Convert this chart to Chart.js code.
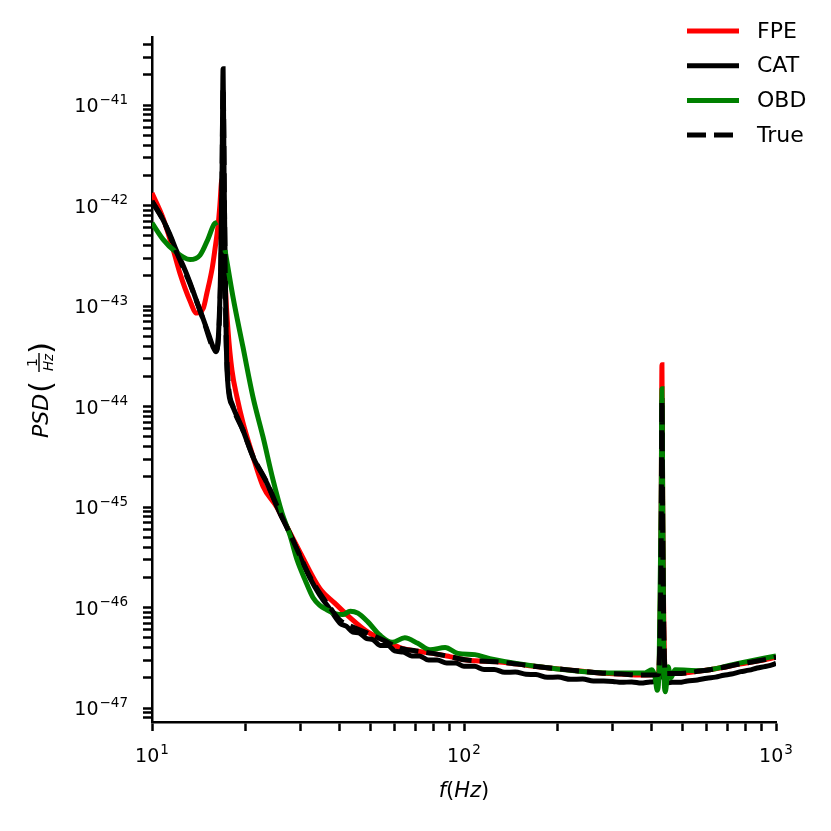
<!DOCTYPE html>
<html>
<head>
<meta charset="utf-8">
<script src="https://cdn.jsdelivr.net/npm/chart.js@4.4.1/dist/chart.umd.min.js"></script>
<style>
  html, body { margin: 0; padding: 0; background: #fff; }
  canvas { display: block; }
</style>
</head>
<body>
<canvas id="psdChart" width="831" height="831" style="width:831px;height:831px"></canvas>
<script>
// frequencies (Hz) and PSD values
const freqFPE = [10, 10.85, 11.7, 12.3, 13.2, 13.9, 14.6, 15.0, 15.6, 15.9, 16.3, 16.5, 16.75, 16.95, 17.2, 17.52, 18.04, 18.72, 19.57, 20.6, 22.7, 25.1, 26.7, 29.9, 34.5, 38.6, 43.2, 48.8, 55, 62.3, 70, 79.4, 90, 102, 130, 160, 188, 230, 273, 320, 366, 420, 428.5, 431, 433.5, 442, 480, 570, 660, 763, 880, 1000];
const psdFPE = [1.33e-42, 7.5e-43, 3.6e-43, 2.1e-43, 1.15e-43, 8.5e-44, 9.5e-44, 1.35e-43, 2.4e-43, 3.6e-43, 6.5e-43, 1.0e-42, 1.8e-42, 4.6e-43, 1.5e-43, 5.8e-44, 2.3e-44, 1.24e-44, 6.9e-45, 4.0e-45, 1.6e-45, 1.0e-45, 6.9e-46, 3.5e-46, 1.55e-46, 1.1e-46, 7.9e-47, 5.8e-47, 4.8e-47, 4.0e-47, 3.7e-47, 3.5e-47, 3.25e-47, 3.0e-47, 2.87e-47, 2.65e-47, 2.5e-47, 2.35e-47, 2.23e-47, 2.18e-47, 2.13e-47, 2.15e-47, 8e-46, 2.6e-44, 8e-46, 2.2e-47, 2.2e-47, 2.33e-47, 2.5e-47, 2.74e-47, 2.95e-47, 3.2e-47];

const freqCAT = [10, 10.4, 10.85, 11.4, 12.0, 12.6, 13.2, 13.9, 14.6, 15.2, 15.7, 16.05, 16.35, 16.6, 16.78, 16.9, 17.02, 17.2, 17.39, 18.18, 19.57, 21.07, 23.35, 25.7, 27.5, 29.9, 32, 34.5, 37.2, 40, 42, 44, 46, 48.8, 51, 54, 57, 60, 64, 68, 72, 77, 82, 88, 94, 100, 108, 116, 125, 135, 146, 158, 170, 185, 200, 220, 240, 260, 280, 300, 320, 345, 370, 395, 415, 425, 428.5, 431, 433.5, 437, 448, 465, 490, 520, 560, 600, 640, 680, 720, 770, 820, 870, 920, 960, 1000];
const psdCAT = [1.1e-42, 9.0e-43, 7.2e-43, 5.2e-43, 3.5e-43, 2.5e-43, 1.75e-43, 1.12e-43, 7.4e-44, 5.2e-44, 3.9e-44, 3.5e-44, 5.5e-44, 2.5e-43, 2.5e-42, 2.3e-41, 2.0e-42, 1.5e-43, 2.3e-44, 9.9e-45, 5.8e-45, 3.15e-45, 1.73e-45, 8.7e-46, 5.7e-46, 3.15e-46, 2.0e-46, 1.33e-46, 9.6e-47, 7.0e-47, 6.5e-47, 5.7e-47, 5.6e-47, 4.9e-47, 4.8e-47, 4.2e-47, 4.2e-47, 3.7e-47, 3.6e-47, 3.3e-47, 3.3e-47, 3.0e-47, 3.0e-47, 2.8e-47, 2.8e-47, 2.6e-47, 2.6e-47, 2.42e-47, 2.42e-47, 2.27e-47, 2.28e-47, 2.17e-47, 2.15e-47, 2.02e-47, 2.03e-47, 1.93e-47, 1.94e-47, 1.86e-47, 1.86e-47, 1.84e-47, 1.8e-47, 1.82e-47, 1.77e-47, 1.82e-47, 1.84e-47, 2.3e-47, 4e-46, 1.15e-44, 4e-46, 2.0e-47, 1.78e-47, 1.8e-47, 1.8e-47, 1.86e-47, 1.9e-47, 1.98e-47, 2.03e-47, 2.12e-47, 2.18e-47, 2.3e-47, 2.38e-47, 2.5e-47, 2.58e-47, 2.66e-47, 2.78e-47];

// null = the break in the OBD curve hidden behind the 17 Hz line
const freqOBD = [10, 10.85, 11.85, 13.24, 14.25, 15.1, 15.8, 16.2, 16.8, 17.14, 18.18, 19.57, 21.07, 22.69, 24.43, 26.1, 27.7, 29.2, 31, 32.8, 34.5, 36.3, 38.6, 40.9, 43.2, 45.7, 49.2, 53.8, 58.8, 64.6, 71.1, 77.8, 87, 95.6, 108.4, 121, 188, 273, 380, 400, 410, 416, 422, 428.5, 431, 433.5, 437, 442, 451, 460, 475, 570, 763, 1000];
const psdOBD = [6.7e-43, 4.6e-43, 3.5e-43, 2.9e-43, 3.2e-43, 4.6e-43, 6.5e-43, 6.8e-43, null, 3.6e-43, 1.23e-43, 3.9e-44, 1.24e-44, 4.98e-45, 1.86e-45, 8.7e-46, 5.2e-46, 2.95e-46, 1.86e-46, 1.26e-46, 1.05e-46, 9.5e-47, 8.7e-47, 8.5e-47, 9.2e-47, 8.8e-47, 7.2e-47, 5.3e-47, 4.5e-47, 5.0e-47, 4.4e-47, 3.8e-47, 4.0e-47, 3.5e-47, 3.4e-47, 3.1e-47, 2.5e-47, 2.25e-47, 2.23e-47, 2.4e-47, 2.0e-47, 1.5e-47, 2.5e-47, 1.0e-45, 1.5e-44, 1.0e-45, 2.6e-47, 1.45e-47, 2.57e-47, 2.0e-47, 2.4e-47, 2.35e-47, 2.8e-47, 3.3e-47];

const freqTrue = [10, 10.85, 12.0, 13.2, 14.6, 15.7, 16.0, 16.4, 16.7, 16.9, 17.1, 17.3, 18.18, 19.57, 21.07, 23.35, 25.7, 28.0, 29.9, 32, 34.5, 37.2, 40, 44, 48.8, 55, 62.3, 70, 79.4, 90, 102, 130, 160, 188, 230, 273, 320, 366, 400, 420, 428.5, 431, 433.5, 442, 480, 570, 660, 763, 880, 1000];
const psdTrue = [1.1e-42, 7.2e-43, 3.4e-43, 1.7e-43, 7.3e-44, 3.8e-44, 3.6e-44, 6e-44, 5e-43, 1.5e-41, 6e-43, 4e-44, 1.0e-44, 5.8e-45, 3.2e-45, 1.75e-45, 8.8e-46, 5.0e-46, 3.2e-46, 2.05e-46, 1.39e-46, 1.0e-46, 7.5e-47, 6.4e-47, 5.6e-47, 4.75e-47, 3.95e-47, 3.7e-47, 3.5e-47, 3.25e-47, 3.0e-47, 2.87e-47, 2.65e-47, 2.5e-47, 2.35e-47, 2.23e-47, 2.18e-47, 2.13e-47, 2.13e-47, 2.15e-47, 5e-46, 1.15e-44, 5e-46, 2.2e-47, 2.2e-47, 2.33e-47, 2.5e-47, 2.74e-47, 2.95e-47, 3.2e-47];

const seriesNames = ['FPE', 'CAT', 'OBD', 'True'];
const seriesColors = ['#ff0000', '#000000', '#008000', '#000000'];

// tick positions and labels (base, exponent)
const xMajorTicks = [10, 100, 1000];
const xTickExps = ['1', '2', '3'];
const yMajorTicks = [1e-47, 1e-46, 1e-45, 1e-44, 1e-43, 1e-42, 1e-41];
const yTickExps = ['\u221247', '\u221246', '\u221245', '\u221244', '\u221243', '\u221242', '\u221241'];
const minorSteps = [2, 3, 4, 5, 6, 7, 8, 9];

const yMin = 7.26e-48, yMax = 4.75e-41;

function toPoints(fs, vs) {
    return fs.map((f, i) => ({ x: f, y: vs[i] }));
}

// all decade + minor tick values inside [lo, hi]
function logTicks(majors, lo, hi) {
    const list = [];
    [majors[0] / 10].concat(majors).forEach(m => {
        list.push(m);
        minorSteps.forEach(s => list.push(m * s));
    });
    return list.filter(v => v >= lo * 0.999 && v <= hi * 1.001).sort((a, b) => a - b);
}

const datasets = [
    { label: 'FPE', data: toPoints(freqFPE, psdFPE), order: 3 },
    { label: 'CAT', data: toPoints(freqCAT, psdCAT), order: 2 },
    { label: 'OBD', data: toPoints(freqOBD, psdOBD), order: 1 },
    { label: 'True', data: toPoints(freqTrue, psdTrue), order: 0, borderDash: [19, 8] }
].map((d, i) => Object.assign({
    borderColor: seriesColors[i],
    backgroundColor: seriesColors[i],
    borderWidth: 5,
    pointRadius: 0,
    fill: false,
    cubicInterpolationMode: 'monotone',
    spanGaps: false
}, d));

const FONT = '"DejaVu Sans"';
const fontFor = (it, size) => (it ? 'italic ' : '') + size + 'px ' + FONT;

// "10" with a raised exponent, like matplotlib mathtext
function drawPower(ctx, exp, x, baseline, align) {
    ctx.font = fontFor(false, 19);
    const wBase = ctx.measureText('10').width;
    ctx.font = fontFor(false, 13.5);
    const wExp = ctx.measureText(exp).width;
    const total = wBase + 1 + wExp;
    const x0 = align === 'right' ? x - total : x - total / 2;
    ctx.font = fontFor(false, 19);
    ctx.fillText('10', x0, baseline);
    ctx.font = fontFor(false, 13.5);
    ctx.fillText(exp, x0 + wBase + 1, baseline - 8.5);
}

const decorPlugin = {
    id: 'decor',
    afterDraw(chart) {
        const ctx = chart.ctx;
        const xa = chart.scales.x, ya = chart.scales.y;
        ctx.save();
        ctx.fillStyle = '#000';
        ctx.textBaseline = 'alphabetic';
        ctx.textAlign = 'left';

        // tick labels
        xMajorTicks.forEach((v, i) => drawPower(ctx, xTickExps[i], xa.getPixelForValue(v), 762, 'center'));
        yMajorTicks.forEach((v, i) => drawPower(ctx, yTickExps[i], 128, ya.getPixelForValue(v) + 7, 'right'));

        // legend
        chart.data.datasets.forEach((ds, i) => {
            const y = 31 + i * 34.7;
            ctx.beginPath();
            ctx.strokeStyle = ds.borderColor;
            ctx.lineWidth = 5;
            ctx.setLineDash(ds.borderDash || []);
            ctx.moveTo(687, y);
            ctx.lineTo(739, y);
            ctx.stroke();
            ctx.setLineDash([]);
            ctx.font = fontFor(false, 22);
            ctx.textBaseline = 'middle';
            ctx.fillText(seriesNames[i], 757, y + 1);
        });
        ctx.textBaseline = 'alphabetic';

        // x title: f(Hz)
        const xParts = [['f', true], ['(', false], ['Hz', true], [')', false]];
        let total = 0;
        xParts.forEach(p => { ctx.font = fontFor(p[1], 21); total += ctx.measureText(p[0]).width; });
        let cx = (xa.left + xa.right) / 2 - total / 2;
        xParts.forEach(p => {
            ctx.font = fontFor(p[1], 21);
            ctx.fillText(p[0], cx, 797);
            cx += ctx.measureText(p[0]).width;
        });

        // y title: PSD(1/Hz), rotated
        ctx.translate(42, 389);
        ctx.rotate(-Math.PI / 2);
        ctx.font = fontFor(true, 22);
        ctx.fillText('PSD', -49, 6);
        ctx.font = fontFor(false, 31);
        ctx.fillText('(', -4, 9);
        ctx.textAlign = 'center';
        ctx.font = fontFor(false, 14);
        ctx.fillText('1', 26.5, -5);
        ctx.fillRect(17, -3.7, 19, 1.4);
        ctx.font = fontFor(true, 13.5);
        ctx.fillText('Hz', 26.5, 10.5);
        ctx.textAlign = 'left';
        ctx.font = fontFor(false, 31);
        ctx.fillText(')', 35, 9);

        ctx.restore();
    }
};

const axisCommon = {
    type: 'logarithmic',
    grid: {
        display: true,
        drawOnChartArea: false,
        drawTicks: true,
        tickLength: 9,
        tickWidth: 2.5,
        tickColor: '#000'
    },
    border: { display: true, color: '#000', width: 2.5 },
    ticks: { display: false, autoSkip: false }
};

new Chart(document.getElementById('psdChart').getContext('2d'), {
    type: 'line',
    data: { datasets: datasets },
    options: {
        responsive: false,
        animation: false,
        events: [],
        layout: { padding: { left: 0, right: 55, top: 37, bottom: 0 } },
        plugins: { legend: { display: false }, tooltip: { enabled: false } },
        scales: {
            x: Object.assign({}, axisCommon, {
                min: 10,
                max: 1000,
                afterBuildTicks: axis => {
                    axis.ticks = logTicks(xMajorTicks, 10, 1000).map(v => ({ value: v }));
                },
                afterFit: axis => { axis.height = 109; }
            }),
            y: Object.assign({}, axisCommon, {
                min: yMin,
                max: yMax,
                afterBuildTicks: axis => {
                    axis.ticks = logTicks(yMajorTicks, yMin, yMax).map(v => ({ value: v }));
                },
                afterFit: axis => { axis.width = 152; }
            })
        }
    },
    plugins: [decorPlugin]
});
</script>
</body>
</html>
